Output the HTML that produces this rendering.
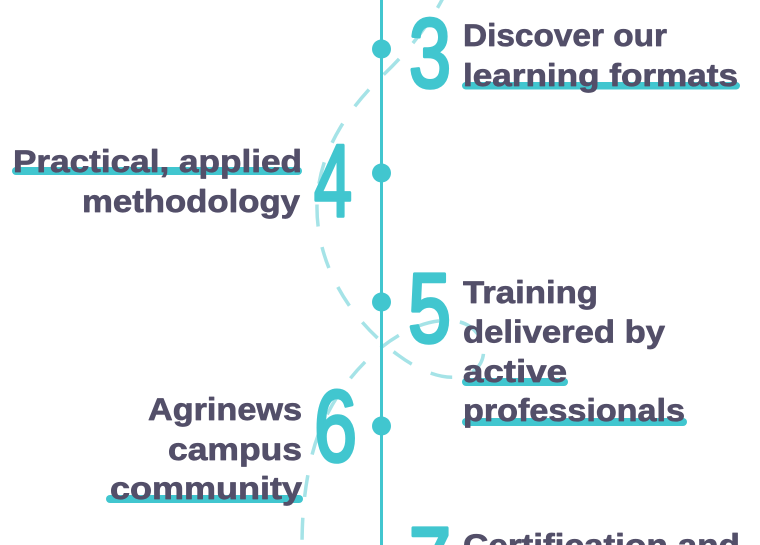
<!DOCTYPE html>
<html>
<head>
<meta charset="utf-8">
<style>
  html, body { margin: 0; padding: 0; background: #ffffff; }
  body { width: 760px; height: 545px; overflow: hidden; position: relative; }
  svg { display: block; overflow: hidden; }
  .t { font-family: "Liberation Sans", "DejaVu Sans", sans-serif; font-weight: 700; font-size: 31.5px; fill: #534f69; stroke: #534f69; stroke-width: 0.7; stroke-linejoin: round; }
  .n { font-family: "Liberation Sans", "DejaVu Sans", sans-serif; font-weight: 400; fill: #41c6cf; stroke: #41c6cf; stroke-width: 3.6; stroke-linejoin: round; stroke-linecap: round; }
</style>
</head>
<body>
<svg width="760" height="545" viewBox="0 0 760 545" xmlns="http://www.w3.org/2000/svg">
  <defs>
    <clipPath id="frame"><rect x="0" y="0" width="760" height="545"/></clipPath>
  </defs>
  <g clip-path="url(#frame)">
  <!-- dashed decorative loop -->
  <path d="M 446 -8 C 430 25, 405 55, 380 78 C 350 108, 318 150, 317 205 C 316 265, 350 320, 398 355 C 425 375, 455 385, 475 370 C 492 355, 482 328, 460 322 C 435 316, 405 328, 378 350 C 345 378, 322 415, 312 455 C 304 490, 302 515, 302 550"
        fill="none" stroke="#a5e3e7" stroke-width="3.5" stroke-dasharray="22 21" stroke-dashoffset="4"/>

  <!-- vertical timeline -->
  <rect x="380" y="0" width="3" height="545" fill="#41c6cf"/>
  <circle cx="381.5" cy="49" r="9.5" fill="#41c6cf"/>
  <circle cx="381.5" cy="173" r="9.5" fill="#41c6cf"/>
  <circle cx="381.5" cy="302" r="9.5" fill="#41c6cf"/>
  <circle cx="381.5" cy="426" r="9.5" fill="#41c6cf"/>

  <!-- underline bars -->
  <rect x="462" y="82" width="278" height="7.5" rx="3.7" fill="#41c6cf"/>
  <rect x="12" y="167" width="290" height="8" rx="4" fill="#41c6cf"/>
  <rect x="462" y="378" width="106" height="8" rx="4" fill="#41c6cf"/>
  <rect x="462" y="418" width="225" height="8" rx="4" fill="#41c6cf"/>
  <rect x="106" y="495" width="197" height="8" rx="4" fill="#41c6cf"/>

  <!-- numerals -->
  <text class="n" x="409" y="87" font-size="98" textLength="42" lengthAdjust="spacingAndGlyphs">3</text>
  <text class="n" x="314" y="216" font-size="102" textLength="38" lengthAdjust="spacingAndGlyphs">4</text>
  <text class="n" x="408" y="342" font-size="98" textLength="43" lengthAdjust="spacingAndGlyphs">5</text>
  <text class="n" x="314" y="461" font-size="101" textLength="43" lengthAdjust="spacingAndGlyphs">6</text>
  <text class="n" x="409" y="596" font-size="98" textLength="42" lengthAdjust="spacingAndGlyphs">7</text>

  <!-- right texts -->
  <text class="t" x="463" y="46" textLength="204" lengthAdjust="spacingAndGlyphs">Discover our</text>
  <text class="t" x="463" y="86" textLength="275" lengthAdjust="spacingAndGlyphs">learning formats</text>

  <text class="t" x="463" y="303" textLength="135" lengthAdjust="spacingAndGlyphs">Training</text>
  <text class="t" x="463" y="342.5" textLength="202" lengthAdjust="spacingAndGlyphs">delivered by</text>
  <text class="t" x="463" y="382" textLength="104" lengthAdjust="spacingAndGlyphs">active</text>
  <text class="t" x="463" y="421" textLength="222" lengthAdjust="spacingAndGlyphs">professionals</text>

  <text class="t" x="463" y="556" textLength="277" lengthAdjust="spacingAndGlyphs">Certification and</text>

  <!-- left texts -->
  <text class="t" x="13" y="172" textLength="289" lengthAdjust="spacingAndGlyphs">Practical, applied</text>
  <text class="t" x="82" y="212" textLength="218" lengthAdjust="spacingAndGlyphs">methodology</text>

  <text class="t" x="148" y="420" textLength="154" lengthAdjust="spacingAndGlyphs">Agrinews</text>
  <text class="t" x="168" y="460" textLength="134" lengthAdjust="spacingAndGlyphs">campus</text>
  <text class="t" x="110" y="499" textLength="192" lengthAdjust="spacingAndGlyphs">community</text>
  </g>
</svg>
</body>
</html>
